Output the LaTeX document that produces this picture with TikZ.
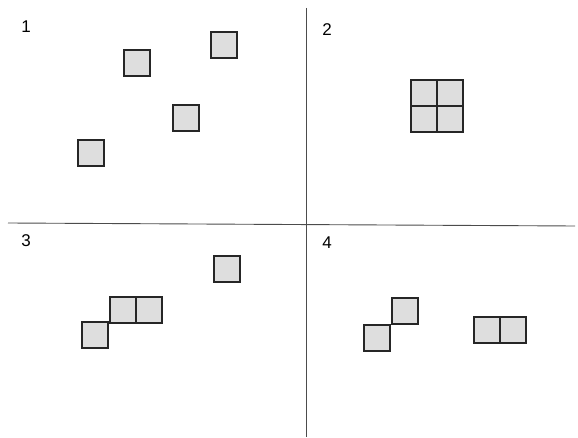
\documentclass[tikz,border=0pt]{standalone}
\usepackage{fontspec}
\setmainfont{Liberation Sans}
\begin{document}
\begin{tikzpicture}[x=1pt,y=-1pt,
  tile/.style={draw=black!85,line width=1.1pt,fill=black!13,minimum size=26pt,inner sep=0pt,outer sep=0pt},
  num/.style={font=\fontsize{17}{20}\selectfont,inner sep=0pt},
  axis/.style={draw=black!70,line width=0.9pt}]
\useasboundingbox (0,0) rectangle (578,438);
% axes
\coordinate (vt) at (306,8);
\coordinate (vb) at (306,437);
\coordinate (hl) at (8,223);
\coordinate (hr) at (575,226);
\draw[axis] (vt) -- (vb);
\draw[axis] (hl) -- (hr);
% labels
\node[num] (n1) at (26,27) {1};
\node[num] (n2) at (327,30) {2};
\node[num] (n3) at (26,241) {3};
\node[num] (n4) at (327,243) {4};
% quadrant 1
\node[tile] (a) at (137,63) {};
\node[tile] (b) at (224,45) {};
\node[tile] (c) at (186,118) {};
\node[tile] (d) at (91,153) {};
% quadrant 2
\node[tile] (g1) at (424,93) {};
\node[tile] (g2) at (450,93) {};
\node[tile] (g3) at (424,119) {};
\node[tile] (g4) at (450,119) {};
% quadrant 3
\node[tile] (e) at (227,269) {};
\node[tile] (f1) at (123,310) {};
\node[tile] (f2) at (149,310) {};
\node[tile] (g) at (95,335) {};
% quadrant 4
\node[tile] (i) at (377,338) {};
\node[tile] (h) at (405,311) {};
\node[tile] (j1) at (487,330) {};
\node[tile] (j2) at (513,330) {};
\end{tikzpicture}
\end{document}
